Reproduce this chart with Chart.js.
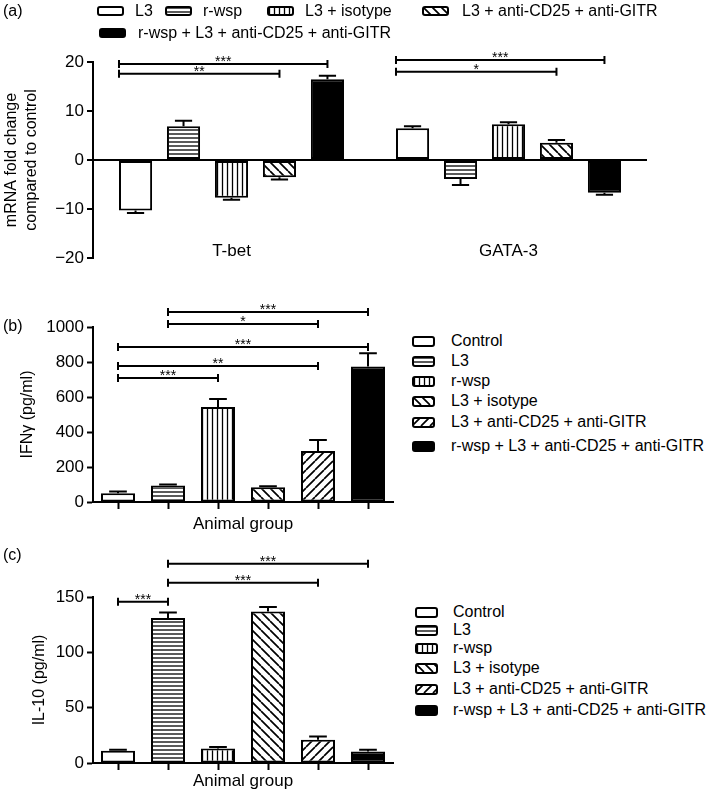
<!DOCTYPE html>
<html>
<head>
<meta charset="utf-8">
<script src="https://cdn.jsdelivr.net/npm/chart.js@4.4.1/dist/chart.umd.min.js"></script>
<style>
  html, body { margin: 0; padding: 0; background: #fff; }
  #fig { position: relative; width: 709px; height: 792px; overflow: hidden;
         font-family: "Liberation Sans", Arial, Helvetica, sans-serif; color: #000; }
  #fig canvas.chart { position: absolute; left: 0; }
  .tag { position: absolute; font-size: 16px; line-height: 18px; }
  .legtext { position: absolute; font-size: 16px; line-height: 18px; white-space: nowrap; }
  .swatch { position: absolute; }
</style>
</head>
<body>
<div id="fig">
  <canvas class="chart" id="chartA" width="709" height="290" style="top:0"></canvas>
  <canvas class="chart" id="chartB" width="400" height="250" style="top:290px"></canvas>
  <canvas class="chart" id="chartC" width="400" height="252" style="top:540px"></canvas>
  <div class="tag" style="left:3px;top:2px">(a)</div>
  <div class="tag" style="left:3px;top:317px">(b)</div>
  <div class="tag" style="left:3px;top:546px">(c)</div>
</div>
<script>
// --- data ---
const genes = ['T-bet', 'GATA-3'];
const groupsA = ['L3', 'r-wsp', 'L3 + isotype', 'L3 + anti-CD25 + anti-GITR', 'r-wsp + L3 + anti-CD25 + anti-GITR'];
const tbetFold = [-10.3, 6.9, -7.7, -3.5, 16.5];
const tbetSem = [0.5, 1.1, 0.4, 0.5, 0.7];
const gataFold = [6.5, -3.9, 7.3, 3.5, -6.7];
const gataSem = [0.4, 1.2, 0.4, 0.6, 0.4];

const animalGroups = ['Control', 'L3', 'r-wsp', 'L3 + isotype', 'L3 + anti-CD25 + anti-GITR', 'r-wsp + L3 + anti-CD25 + anti-GITR'];
const ifnValues = [50, 94, 543, 85, 291, 774];
const ifnSem = [10, 6, 45, 5, 64, 76];
const il10Values = [11, 131, 13, 137, 21, 10.5];
const il10Sem = [1, 5, 1.5, 4, 3, 1.5];

const yTicksA = [-20, -10, 0, 10, 20];
const yTicksB = [0, 200, 400, 600, 800, 1000];
const yTicksC = [0, 50, 100, 150];

// significance brackets: [gene, fromGroup, toGroup, height, stars]
const sigA = [[0, 0, 4, 19.6, '***'], [0, 0, 3, 17.6, '**'], [1, 0, 4, 20.4, '***'], [1, 0, 3, 18.0, '*']];
// [fromGroup, toGroup, height, stars]
const sigB = [[0, 2, 709, '***'], [0, 4, 777, '**'], [0, 5, 886, '***'], [1, 4, 1017, '*'], [1, 5, 1086, '***']];
const sigC = [[0, 1, 145.6, '***'], [1, 4, 162.8, '***'], [1, 5, 180, '***']];

// fill styles per group
const fillsA = ['white', 'h', 'v', 'back', 'black'];
const fillsBC = ['white', 'h', 'v', 'back', 'fwd', 'black'];

Chart.defaults.font.family = '"Liberation Sans", Arial, Helvetica, sans-serif';
Chart.defaults.color = '#000';

function makeFill(kind) {
    if (kind === 'white') return '#fff';
    if (kind === 'black') return '#000';
    const c = document.createElement('canvas');
    const n = (kind === 'h') ? [8, 4] : (kind === 'v') ? [5, 8] : [9, 9];
    c.width = n[0]; c.height = n[1];
    const g = c.getContext('2d');
    g.fillStyle = '#fff';
    g.fillRect(0, 0, c.width, c.height);
    g.strokeStyle = '#000';
    g.beginPath();
    if (kind === 'h') { g.lineWidth = 1.3; g.moveTo(0, 2); g.lineTo(8, 2); }
    if (kind === 'v') { g.lineWidth = 1.3; g.moveTo(2.5, 0); g.lineTo(2.5, 8); }
    if (kind === 'back' || kind === 'fwd') {
        g.lineWidth = 1.7;
        for (let k = -1; k <= 1; k++) {
            if (kind === 'back') { g.moveTo(k * 9, 0); g.lineTo(k * 9 + 9, 9); }
            else { g.moveTo(k * 9, 9); g.lineTo(k * 9 + 9, 0); }
        }
    }
    g.stroke();
    return g.createPattern(c, 'repeat');
}

// error bars (one-sided, away from zero)
Chart.register({
    id: 'errorBars',
    afterDatasetsDraw(chart, args, opts) {
        const ctx = chart.ctx, y = chart.scales.y;
        chart.data.datasets.forEach((ds, i) => {
            if (!ds.errors) return;
            chart.getDatasetMeta(i).data.forEach((bar, j) => {
                const v = ds.data[j], e = ds.errors[j];
                const end = y.getPixelForValue(v + (v < 0 ? -e : e));
                const cap = bar.width * 0.26;
                ctx.save();
                ctx.strokeStyle = '#000';
                ctx.lineWidth = 2;
                ctx.beginPath();
                ctx.moveTo(bar.x, bar.y); ctx.lineTo(bar.x, end);
                ctx.moveTo(bar.x - cap, end); ctx.lineTo(bar.x + cap, end);
                ctx.stroke();
                ctx.restore();
            });
        });
    }
});

// significance brackets
Chart.register({
    id: 'brackets',
    afterDraw(chart, args, opts) {
        if (!opts.items) return;
        const ctx = chart.ctx, y = chart.scales.y;
        opts.items.forEach(b => {
            const e1 = chart.getDatasetMeta(b.from[0]).data[b.from[1]];
            const e2 = chart.getDatasetMeta(b.to[0]).data[b.to[1]];
            const x1 = e1.x - (opts.fromEdge ? e1.width / 2 : 0);
            const x2 = e2.x;
            const py = y.getPixelForValue(b.y);
            ctx.save();
            ctx.strokeStyle = '#000';
            ctx.lineWidth = 2;
            ctx.beginPath();
            ctx.moveTo(x1, py); ctx.lineTo(x2, py);
            ctx.moveTo(x1, py - 4); ctx.lineTo(x1, py + 4);
            ctx.moveTo(x2, py - 4); ctx.lineTo(x2, py + 4);
            ctx.stroke();
            ctx.fillStyle = '#000';
            ctx.font = '14px "Liberation Sans", Arial, sans-serif';
            ctx.textAlign = 'center';
            ctx.textBaseline = 'alphabetic';
            ctx.fillText(b.text, (x1 + x2) / 2, py + 2);
            ctx.restore();
        });
    }
});

function yAxis(ticks, title, width, titlePad) {
    return {
        min: ticks[0], max: ticks[ticks.length - 1],
        afterBuildTicks: s => { s.ticks = ticks.map(v => ({ value: v })); },
        afterFit: s => { s.width = width; },
        ticks: {
            color: '#000', font: { size: 17 }, padding: 3,
            callback: v => (v < 0 ? '\u2212' + Math.abs(v) : String(v))
        },
        grid: { drawOnChartArea: false, tickColor: '#000', tickLength: 6, tickWidth: 2 },
        border: { color: '#000', width: 2 },
        title: { display: true, text: title, color: '#000', font: { size: 16, lineHeight: 1.25 }, padding: { top: titlePad, bottom: 0 } }
    };
}

// --- (a) mRNA fold change ---
new Chart(document.getElementById('chartA'), {
    type: 'bar',
    data: {
        labels: genes,
        datasets: groupsA.map((g, i) => ({
            label: g,
            data: [tbetFold[i], gataFold[i]],
            errors: [tbetSem[i], gataSem[i]],
            backgroundColor: makeFill(fillsA[i]),
            borderColor: '#000',
            borderWidth: 2,
            borderSkipped: false,
            categoryPercentage: 0.866,
            barPercentage: 0.69
        }))
    },
    options: {
        responsive: false,
        animation: false,
        layout: { padding: { top: 62, right: 62, left: 0, bottom: 0 } },
        plugins: {
            legend: { display: false },
            tooltip: { enabled: false },
            brackets: {
                fromEdge: true,
                items: sigA.map(s => ({ from: [s[1], s[0]], to: [s[2], s[0]], y: s[3], text: s[4] }))
            }
        },
        scales: {
            x: {
                grid: { display: false },
                border: { display: false },
                // gene names sit just above the bottom of the plot, as in the figure
                ticks: { color: '#000', font: { size: 17, lineHeight: 0.82 }, mirror: true, padding: 0 },
                afterFit: s => { s.height = 32; }
            },
            y: Object.assign(yAxis(yTicksA, ['mRNA fold change', 'compared to control'], 93, 2), {
                grid: {
                    drawOnChartArea: true,
                    color: c => (c.tick && c.tick.value === 0 ? '#000' : 'rgba(0,0,0,0)'),
                    lineWidth: 2, tickColor: '#000', tickLength: 6, tickWidth: 2
                }
            })
        }
    }
});

function animalChart(id, values, sem, ticks, title, titlePad, sig, padTop, xHeight, xTitlePad) {
    return new Chart(document.getElementById(id), {
        type: 'bar',
        data: {
            labels: animalGroups,
            datasets: [{
                label: title,
                data: values,
                errors: sem,
                backgroundColor: fillsBC.map(makeFill),
                borderColor: '#000',
                borderWidth: 2,
                borderSkipped: false,
                categoryPercentage: 1,
                barPercentage: 0.68
            }]
        },
        options: {
            responsive: false,
            animation: false,
            layout: { padding: { top: padTop, right: 7, left: 0, bottom: 0 } },
            plugins: {
                legend: { display: false },
                tooltip: { enabled: false },
                brackets: { items: sig.map(s => ({ from: [0, s[0]], to: [0, s[1]], y: s[2], text: s[3] })) }
            },
            scales: {
                x: {
                    grid: { display: true, offset: false, drawOnChartArea: false, tickColor: '#000', tickLength: 7, tickWidth: 2 },
                    border: { color: '#000', width: 2 },
                    ticks: { callback: () => '', padding: 0 },
                    title: { display: true, text: 'Animal group', color: '#000', font: { size: 17, lineHeight: 1.2 }, padding: { top: 0, bottom: xTitlePad } },
                    afterFit: s => { s.height = xHeight; }
                },
                y: yAxis(ticks, title, 93, titlePad)
            }
        }
    });
}

// --- (b) IFN-gamma ---
animalChart('chartB', ifnValues, ifnSem, yTicksB, 'IFN\u03b3 (pg/ml)', 18, sigB, 37, 38, 5);
// --- (c) IL-10 ---
animalChart('chartC', il10Values, il10Sem, yTicksC, 'IL-10 (pg/ml)', 30, sigC, 57, 29, 0);

// --- HTML legends with patterned swatches ---
const fig = document.getElementById('fig');
function addItem(kind, text, sx, tx, cy, w, h) {
    const c = document.createElement('canvas');
    c.className = 'swatch';
    c.width = w; c.height = h;
    c.style.left = sx + 'px';
    c.style.top = (cy - h / 2) + 'px';
    const g = c.getContext('2d');
    g.beginPath();
    g.roundRect(1, 1, w - 2, h - 2, 2);
    g.fillStyle = makeFill(kind);
    g.fill();
    g.lineWidth = 2;
    g.strokeStyle = '#000';
    g.stroke();
    fig.appendChild(c);
    const t = document.createElement('div');
    t.className = 'legtext';
    t.textContent = text;
    t.style.left = tx + 'px';
    t.style.top = (cy - 9) + 'px';
    fig.appendChild(t);
}
const legPosA = [[97, 135, 11], [165, 203, 11], [267, 305, 11], [422, 462, 11], [99, 138, 33]];
groupsA.forEach((g, i) => addItem(fillsA[i], g, legPosA[i][0], legPosA[i][1], legPosA[i][2], 27, 10));
const legRowsB = [341, 361, 381, 401, 422, 446];
const legRowsC = [612, 630, 648, 668, 689, 710];
animalGroups.forEach((g, i) => addItem(fillsBC[i], g, 412, 451, legRowsB[i], 23, 11));
animalGroups.forEach((g, i) => addItem(fillsBC[i], g, 415, 453, legRowsC[i], 23, 11));
</script>
</body>
</html>
